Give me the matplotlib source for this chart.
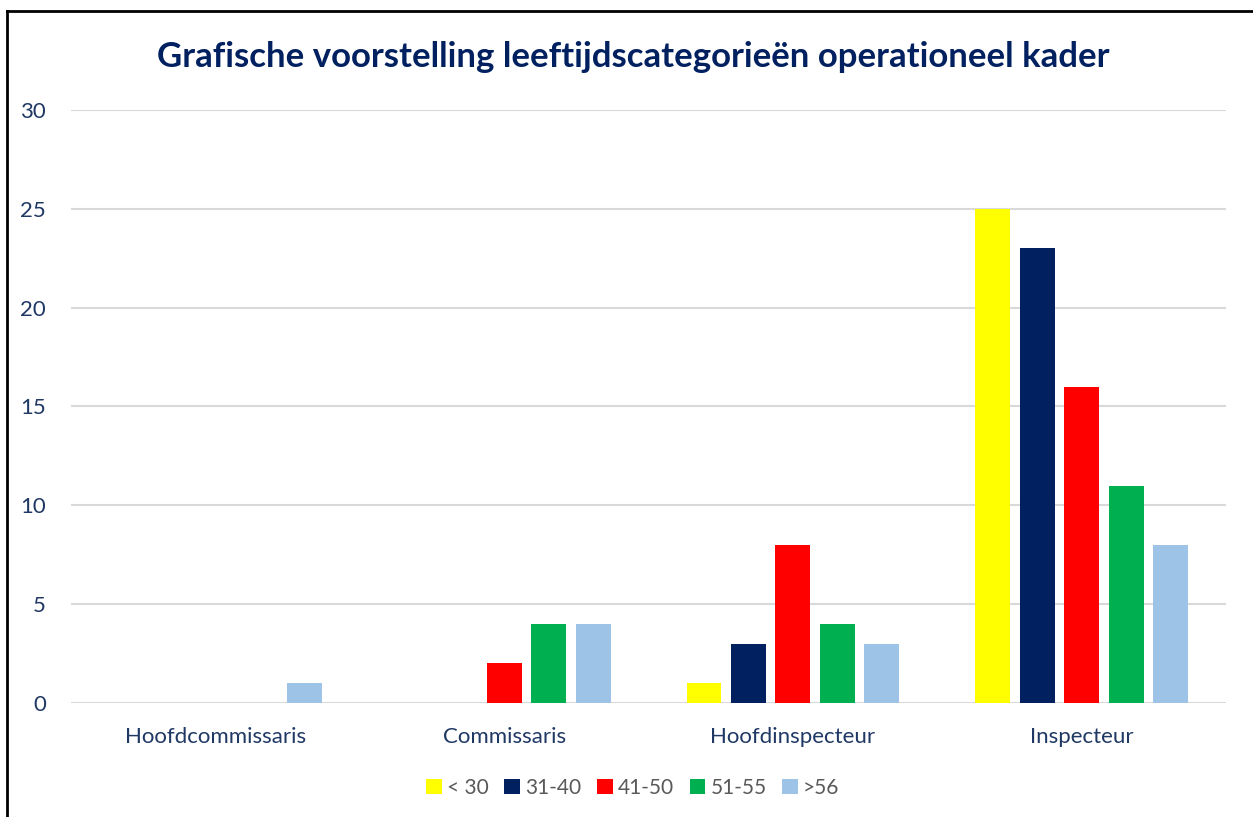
import numpy as np
import matplotlib.pyplot as plt
from matplotlib.lines import Line2D

# data
categories = ["Hoofdcommissaris", "Commissaris", "Hoofdinspecteur", "Inspecteur"]
series_names = ["< 30", "31-40", "41-50", "51-55", ">56"]
under_30 = [0, 0, 1, 25]
age_31_40 = [0, 0, 3, 23]
age_41_50 = [0, 2, 8, 16]
age_51_55 = [0, 4, 4, 11]
over_56 = [1, 4, 3, 8]
series_values = [under_30, age_31_40, age_41_50, age_51_55, over_56]
colors = ["#FFFF00", "#002060", "#FF0000", "#00B050", "#9DC3E6"]

plt.rcParams['font.family'] = ['Lato', 'DejaVu Sans']

fig = plt.figure(figsize=(12.53, 8.17), dpi=100)
ax = fig.add_axes([0.0567, 0.1395, 0.9218, 0.7259])

x = np.arange(len(categories))
step = 0.154
width = 0.121
for i, (name, vals) in enumerate(zip(series_names, series_values)):
    ax.bar(x + (i - 2) * step, vals, width, color=colors[i], label=name, zorder=3)

ax.set_xlim(-0.5, 3.5)
ax.set_ylim(0, 30)
ax.set_yticks(range(0, 31, 5))
ax.yaxis.grid(True, color="#D9D9D9", linewidth=1.5, zorder=0)
ax.set_xticks(x)
ax.set_xticklabels(categories)
for s in ax.spines.values():
    s.set_visible(False)
ax.tick_params(axis="both", length=0, labelsize=16, colors="#1F3864")
ax.tick_params(axis="x", pad=17)
ax.tick_params(axis="y", pad=18)

fig.text(0.505, 0.93, "Grafische voorstelling leeftijdscategorieën operationeel kader",
         ha="center", va="center", fontsize=25, fontweight="bold", color="#002060")

leg = fig.legend(loc="center", bbox_to_anchor=(0.505, 0.036), ncol=5, frameon=False,
                 fontsize=15, handlelength=0.75, handleheight=0.75, handletextpad=0.25,
                 columnspacing=0.75)
for t in leg.get_texts():
    t.set_color("#595959")

# frame lines (top and left of the chart border)
fig.add_artist(Line2D([0.0056, 0.0056], [0, 0.986], transform=fig.transFigure, color="black", linewidth=2))
fig.add_artist(Line2D([0.0056, 1.0], [0.986, 0.986], transform=fig.transFigure, color="black", linewidth=2))

fig.savefig("out.png", dpi=100)
